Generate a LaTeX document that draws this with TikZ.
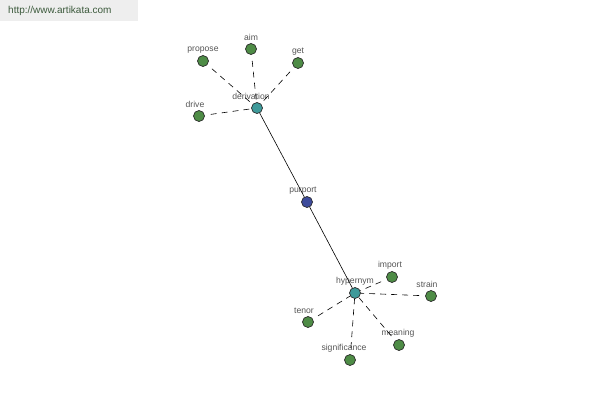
\documentclass[tikz,border=0pt]{standalone}
\usepackage{fontspec}
\setmainfont{Liberation Sans}
\usepackage{xcolor}
\usetikzlibrary{calc}
\definecolor{leaf}{HTML}{4E8C46}
\definecolor{hub}{HTML}{3E9A9A}
\definecolor{root}{HTML}{3D4B9C}
\definecolor{rim}{HTML}{2A2A2A}
\definecolor{lbl}{HTML}{555555}
\definecolor{band}{HTML}{EEEEEE}
\definecolor{url}{HTML}{3C5A3C}
\tikzset{
  dot/.style={circle, draw=rim, line width=0.7pt, inner sep=0pt, minimum size=11pt},
  leafdot/.style={dot, fill=leaf},
  hubdot/.style={dot, fill=hub},
  rootdot/.style={dot, fill=root},
  lab/.style={text=lbl, font=\fontsize{8.6}{10}\selectfont, inner sep=0pt},
  tie/.style={draw=black, line width=0.6pt},
  loose/.style={draw=black, line width=0.6pt, dash pattern=on 6pt off 5pt, shorten <=6pt},
}
\begin{document}
\begin{tikzpicture}[x=1pt,y=-1pt]
  \useasboundingbox (0,0) rectangle (600,400);
  \fill[band] (0,0) rectangle (138,21);
  \node[text=url, font=\fontsize{10}{12}\selectfont, anchor=west, inner sep=0pt] (site) at (8,11) {http://www.artikata.com};

  % centres
  \node[rootdot,label={[lab,xshift=-4pt,yshift=2pt]above:purport}] (purport) at (307,202) {};
  \node[hubdot,label={[lab,xshift=-6pt,yshift=2pt]above:derivation}] (derivation) at (257,108) {};
  \node[hubdot,label={[lab,yshift=2pt]above:hypernym}] (hypernym) at (355,293) {};

  % leaves
  \node[leafdot,label={[lab,yshift=2pt]above:propose}] (propose) at (203,61) {};
  \node[leafdot,label={[lab,yshift=2pt]above:aim}] (aim) at (251,49) {};
  \node[leafdot,label={[lab,yshift=2pt]above:get}] (get) at (298,63) {};
  \node[leafdot,label={[lab,xshift=-4pt,yshift=2pt]above:drive}] (drive) at (199,116) {};
  \node[leafdot,label={[lab,xshift=-2pt,yshift=2pt]above:import}] (import) at (392,277) {};
  \node[leafdot,label={[lab,xshift=-4pt,yshift=2pt]above:strain}] (strain) at (431,296) {};
  \node[leafdot,label={[lab,xshift=-4pt,yshift=2pt]above:tenor}] (tenor) at (308,322) {};
  \node[leafdot,label={[lab,xshift=-1pt,yshift=2pt]above:meaning}] (meaning) at (399,345) {};
  \node[leafdot,label={[lab,xshift=-6pt,yshift=2pt]above:significance}] (significance) at (350,360) {};

  \draw[tie] (derivation) -- (purport);
  \draw[tie] (purport) -- (hypernym);

  \foreach \n in {propose,aim,get,drive}
    \draw[loose] (\n) -- (derivation);
  \foreach \n in {import,strain,tenor,meaning,significance}
    \draw[loose] (\n) -- (hypernym);
\end{tikzpicture}
\end{document}
